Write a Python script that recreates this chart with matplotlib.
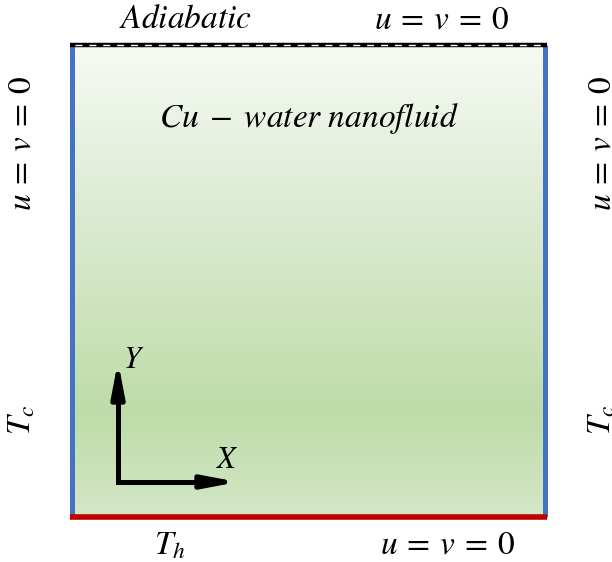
import matplotlib
matplotlib.use("Agg")
import matplotlib.pyplot as plt
import numpy as np
from matplotlib.colors import LinearSegmentedColormap

plt.rcParams['mathtext.fontset'] = 'stix'

# cavity outline (pixel coordinates, y downwards)
box_left, box_right, box_top, box_bottom = 72, 545, 45, 517

# boundary labels
top_labels = [r'$Adiabatic$', r'$u\:=\:v\:=\:0$']
bottom_labels = [r'$T_h$', r'$u\:=\:v\:=\:0$']
side_labels = [r'$u\:=\:v\:=\:0$', r'$T_c$']
fluid_label = r'$Cu\;-\;water\ nanofluid$'

# vertical colour stops for the fluid shading (position 0 = top)
shade_pos = [0.0, 0.35, 0.78, 1.0]
shade_col = ['#f6faf4', '#dcebd2', '#bedca9', '#d3e7c6']

fig = plt.figure(figsize=(6.12, 5.62), dpi=100)
ax = fig.add_axes([0, 0, 1, 1])
ax.set_xlim(0, 612)
ax.set_ylim(562, 0)
ax.axis('off')

cmap = LinearSegmentedColormap.from_list('fluid', list(zip(shade_pos, shade_col)))
grad = np.linspace(0, 1, 256).reshape(-1, 1)
ax.imshow(grad, cmap=cmap, aspect='auto',
          extent=(box_left, box_right, box_bottom, box_top), zorder=1)

# walls
ax.plot([box_left, box_left], [box_top, box_bottom], color='#4472c4', lw=3.6, zorder=3,
        solid_capstyle='butt')
ax.plot([box_right, box_right], [box_top, box_bottom], color='#4472c4', lw=3.6, zorder=3,
        solid_capstyle='butt')
ax.plot([box_left - 2, box_right + 2], [box_bottom, box_bottom], color='#c00000', lw=4.0,
        zorder=4, solid_capstyle='butt')
ax.plot([box_left - 2, box_right + 2], [box_top, box_top], color='black', lw=3.2, zorder=4,
        solid_capstyle='butt')
ax.plot([box_left + 3, box_right], [box_top, box_top], color='white', lw=1.0, zorder=5,
        dashes=(5, 5))

fs = 24
ax.text(185, 19, top_labels[0], fontsize=fs, ha='center', va='center')
ax.text(442, 19, top_labels[1], fontsize=fs, ha='center', va='center')
ax.text(170, 545, bottom_labels[0], fontsize=fs, ha='center', va='center')
ax.text(448, 544, bottom_labels[1], fontsize=fs, ha='center', va='center')
ax.text(21, 143, side_labels[0], fontsize=fs, ha='center', va='center', rotation=90)
ax.text(21, 420, side_labels[1], fontsize=fs, ha='center', va='center', rotation=90)
ax.text(601, 143, side_labels[0], fontsize=fs, ha='center', va='center', rotation=90)
ax.text(601, 420, side_labels[1], fontsize=fs, ha='center', va='center', rotation=90)
ax.text(309, 119, fluid_label, fontsize=fs, ha='center', va='center')

# coordinate axes: L-shaped shafts plus arrow heads
ax.plot([118, 118, 200], [400, 482, 482], color='black', lw=3.6, zorder=6,
        solid_joinstyle='miter', solid_capstyle='butt')
head = dict(arrowstyle='-|>,head_length=2.0,head_width=0.38', lw=3.6, color='black',
            shrinkA=0, shrinkB=0)
ax.annotate('', xy=(118, 361), xytext=(118, 402), arrowprops=head, zorder=6)
ax.annotate('', xy=(238, 482), xytext=(198, 482), arrowprops=head, zorder=6)
ax.text(134, 360, r'$Y$', fontsize=fs - 2, ha='center', va='center')
ax.text(227, 460, r'$X$', fontsize=fs - 2, ha='center', va='center')

fig.savefig('out.png', dpi=100)
